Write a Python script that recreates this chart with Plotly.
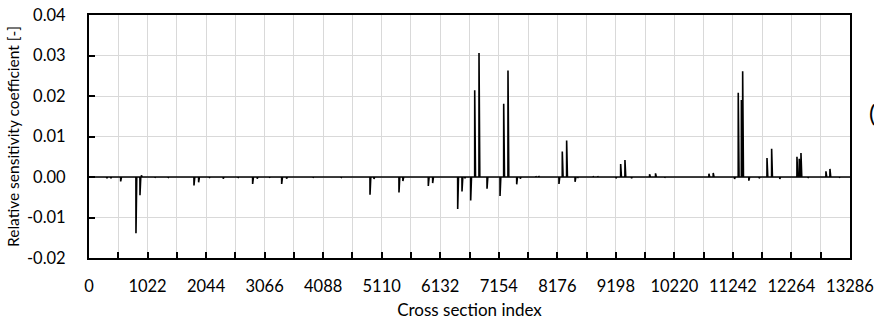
import numpy as np
import plotly.graph_objects as go

# Cross-section indices where the sensitivity coefficient departs from zero
spike_index = [
    309, 379, 553, 820, 890, 915, 1150, 1380, 1833, 1914, 2100, 2344, 2600,
    2857, 2937, 3150, 3364, 3450, 3910, 4400, 4906, 4975, 5412, 5480, 5924,
    6000, 6437, 6512, 6560, 6664, 6734, 6809, 6949, 7176, 7240, 7315, 7467,
    7530, 7800, 7850, 8205, 8263, 8339, 8486, 8530, 8800, 8880, 9200, 9282,
    9357, 9470, 9787, 9891, 10050, 10823, 10898, 11270, 11335, 11390, 11412,
    11520, 11700, 11837, 11918, 12060, 12360, 12400, 12430, 12550, 12866,
    12936, 13100,
]
# Relative sensitivity coefficient at those indices [-]
spike_value = [
    -0.0003, -0.0003, -0.0011, -0.0139, -0.0045, 0.0004, -0.0002, -0.0002,
    -0.0021, -0.0013, -0.0002, -0.0004, -0.0002, -0.0017, -0.0004, -0.0002,
    -0.0017, -0.0004, -0.0002, -0.0002, -0.0044, -0.0005, -0.0038, -0.0010,
    -0.0022, -0.0015, -0.0079, -0.0036, -0.0003, -0.0058, 0.0214, 0.0306,
    -0.0029, -0.0047, 0.0181, 0.0263, -0.0018, -0.0004, 0.0002, 0.0002,
    -0.0017, 0.0063, 0.0090, -0.0012, -0.0002, 0.0002, 0.0002, -0.0003,
    0.0032, 0.0042, -0.0003, 0.0007, 0.0009, -0.0002, 0.0008, 0.0010,
    -0.0005, 0.0208, 0.0190, 0.0261, -0.0009, -0.0003, 0.0047, 0.0070,
    -0.0005, 0.0050, 0.0045, 0.0059, -0.0002, 0.0014, 0.0020, -0.0002,
]

n_sections = 13286
x_tick_vals = [0, 1022, 2044, 3066, 4088, 5110, 6132, 7154, 8176, 9198,
               10220, 11242, 12264, 13286]
x_tick_text = [str(v) for v in x_tick_vals]
y_tick_vals = [-0.02, -0.01, 0.0, 0.01, 0.02, 0.03, 0.04]
y_tick_text = ["-0.02", "-0.01", "0.00", "0.01", "0.02", "0.03", "0.04"]

# Full series over every cross section: zero except at the listed indices
x = np.arange(n_sections + 1)
y = np.zeros(n_sections + 1)
y[spike_index] = spike_value

FONT = "Lato"
GRID = "#d9d9d9"

fig = go.Figure()
fig.add_trace(go.Scatter(
    x=x, y=y, mode="lines",
    line=dict(color="black", width=1.6),
    hoverinfo="skip", showlegend=False,
))

fig.update_layout(
    width=874, height=320,
    margin=dict(l=89, r=24, t=15, b=62, autoexpand=False),
    paper_bgcolor="white", plot_bgcolor="white",
    font=dict(family=FONT, size=16.5, color="black"),
)

fig.update_xaxes(
    range=[0, n_sections], automargin=False,
    tickmode="array", tickvals=x_tick_vals, ticktext=x_tick_text,
    ticks="inside", ticklen=6, tickwidth=2, tickcolor="black",
    ticklabelstandoff=12,
    showline=True, linecolor="black", linewidth=2, mirror=True,
    showgrid=True, gridcolor=GRID, gridwidth=1,
    minor=dict(tickmode="linear", tick0=511, dtick=1022, ticks="inside",
               ticklen=6, tickwidth=2, tickcolor="black",
               showgrid=True, gridcolor=GRID, gridwidth=1),
    zeroline=False,
    title=dict(text="Cross section index", font=dict(size=17), standoff=10),
)

fig.update_yaxes(
    range=[-0.02, 0.04], automargin=False,
    tickmode="array", tickvals=y_tick_vals, ticktext=y_tick_text,
    ticks="inside", ticklen=6, tickwidth=2, tickcolor="black",
    ticklabelstandoff=18,
    showline=True, linecolor="black", linewidth=2, mirror=True,
    showgrid=True, gridcolor=GRID, gridwidth=1,
    zeroline=False,
    title=dict(text="Relative sensitivity coefficient [-]",
               font=dict(size=15.5), standoff=4),
)

# Panel marker at the right edge
fig.add_annotation(
    text="(", xref="paper", yref="paper", x=1.022, y=0.60,
    xanchor="left", yanchor="middle", showarrow=False,
    font=dict(family=FONT, size=24, color="black"),
)

fig.write_html("out.html")
